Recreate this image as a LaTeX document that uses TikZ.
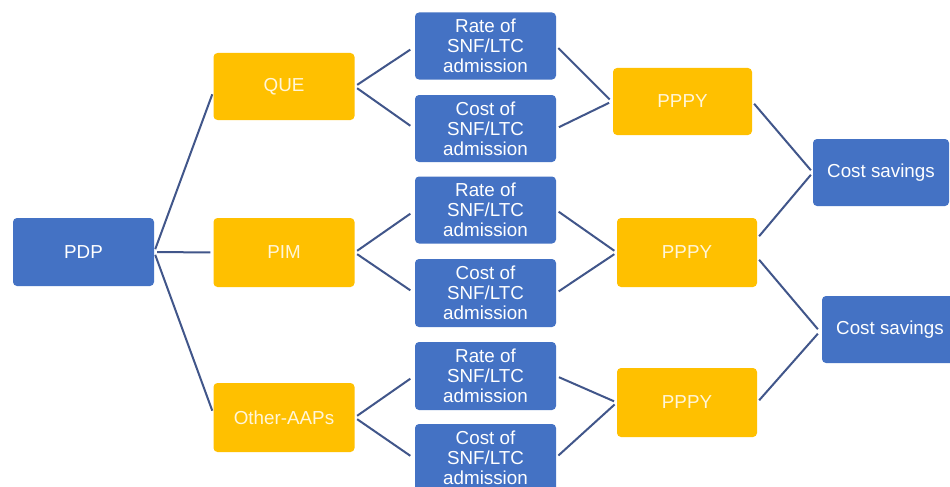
\documentclass[tikz,border=0pt]{standalone}
\usepackage{fontspec}
\setmainfont{Liberation Sans}
\usetikzlibrary{calc}
\definecolor{boxblue}{HTML}{4472C4}
\definecolor{boxgold}{HTML}{FFC000}
\definecolor{linkcol}{HTML}{41568A}
\definecolor{goldtext}{HTML}{FFF6DA}
\tikzset{
  basebox/.style={rectangle, rounded corners=4pt, draw=none, inner sep=0pt,
    align=center, font=\fontsize{18.8}{20}\selectfont},
  bluebox/.style={basebox, fill=boxblue, text=white, minimum width=141pt, minimum height=67pt},
  goldbox/.style={basebox, fill=boxgold, text=goldtext, minimum width=141pt, minimum height=68pt},
  link/.style={draw=linkcol, line width=2pt, shorten <=3pt, shorten >=3pt},
}
\begin{document}
\begin{tikzpicture}[x=1pt, y=-1pt]
\useasboundingbox (0,0) rectangle (950,487);
\fill[white] (0,0) rectangle (950,487);
\clip (0,0) rectangle (950,487);

\node[bluebox, minimum height=68pt] (pdp) at (83.5,252) {PDP};

\node[goldbox, minimum height=67pt] (que) at (284,86.5) {QUE};
\node[goldbox, minimum height=69pt] (pim) at (284,252.5) {PIM};
\node[goldbox, minimum height=69pt] (oth) at (284,417.5) {Other-AAPs};

\node[bluebox] (r1) at (485.5,46) {Rate of\\SNF/LTC\\admission};
\node[bluebox] (c1) at (485.5,128.5) {Cost of\\SNF/LTC\\admission};
\node[bluebox] (r2) at (485.5,210) {Rate of\\SNF/LTC\\admission};
\node[bluebox, minimum height=68pt] (c2) at (485.5,293) {Cost of\\SNF/LTC\\admission};
\node[bluebox, minimum height=68pt] (r3) at (485.5,376) {Rate of\\SNF/LTC\\admission};
\node[bluebox] (c3) at (485.5,457.5) {Cost of\\SNF/LTC\\admission};

\node[goldbox, minimum width=139pt, minimum height=67pt] (p1) at (682.5,101.5) {PPPY};
\node[goldbox, minimum width=140pt, minimum height=69pt] (p2) at (687,252.5) {PPPY};
\node[goldbox, minimum width=140pt, minimum height=69pt] (p3) at (687,402.5) {PPPY};

\node[bluebox, minimum width=136pt] (cs1) at (881,172.5) {Cost savings};
\node[bluebox, minimum width=136pt] (cs2) at (890,329.5) {Cost savings};

% PDP to programmes
\draw[link] (pdp.east) -- ($(que.west)+(0,5)$);
\draw[link] (pdp.east) -- (pim.west);
\draw[link] (pdp.east) -- ($(oth.west)+(0,-4)$);

% programmes to rate/cost
\draw[link] (que.east) -- ($(r1.west)+(-2,2)$);
\draw[link] (que.east) -- ($(c1.west)+(-2,-1)$);
\draw[link] (pim.east) -- ($(r2.west)+(-2,2)$);
\draw[link] (pim.east) -- ($(c2.west)+(-2,-1)$);
\draw[link] (oth.east) -- ($(r3.west)+(-2,1)$);
\draw[link] (oth.east) -- ($(c3.west)+(-2,0)$);

% rate/cost to PPPY
\draw[link] (r1.east) -- ($(p1.west)+(-1,0)$);
\draw[link] (c1.east) -- ($(p1.west)+(-1,0)$);
\draw[link] (r2.east) -- (p2.west);
\draw[link] (c2.east) -- (p2.west);
\draw[link] (r3.east) -- (p3.west);
\draw[link] (c3.east) -- (p3.west);

% PPPY to cost savings
\draw[link] (p1.east) -- (cs1.west);
\draw[link] ($(p2.east)+(0,-14)$) -- (cs1.west);
\draw[link] ($(p2.east)+(0,5)$) -- ($(cs2.west)+(-2,2)$);
\draw[link] (p3.east) -- ($(cs2.west)+(-2,2)$);
\end{tikzpicture}
\end{document}
